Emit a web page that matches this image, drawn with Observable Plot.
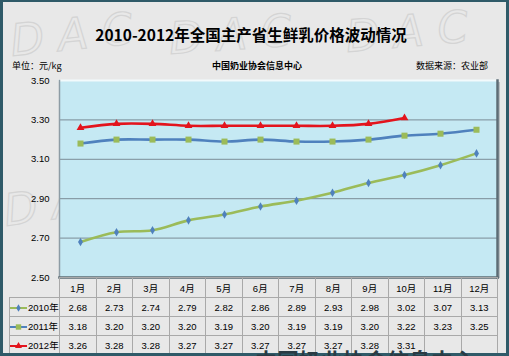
<!DOCTYPE html>
<html><head><meta charset="utf-8">
<script src="https://cdn.jsdelivr.net/npm/d3@7"></script>
<script src="https://cdn.jsdelivr.net/npm/@observablehq/plot@0.6"></script>
<style>
body{margin:0;background:#fff;}
#wrap{position:relative;width:509px;height:356px;overflow:hidden;background:#e8e8e8;font-family:"Noto Sans CJK SC",sans-serif;color:#000;}
#frame{position:absolute;left:0;top:0;width:509px;height:356px;box-sizing:border-box;border:3px solid #2f5a68;border-top-width:2px;pointer-events:none;z-index:20;}
#wm{position:absolute;left:0;top:0;z-index:0;}
#chart{position:absolute;left:0;top:0;z-index:2;}
.title{position:absolute;left:0;width:502px;top:25px;text-align:center;font-size:15.5px;font-weight:700;line-height:18px;z-index:3;}
.sub{position:absolute;top:61px;font-size:9px;line-height:10px;z-index:3;}
#tbl{position:absolute;left:9px;top:277px;z-index:4;border-collapse:collapse;table-layout:fixed;font-family:"Liberation Sans Narrow","Liberation Sans","Noto Sans CJK SC",sans-serif;font-size:9.5px;}
#tbl td{border:1px solid #a9a9a9;padding:0;text-align:center;vertical-align:middle;overflow:hidden;white-space:nowrap;}
#tbl td.blank{border:none;}
#tbl td.leg{text-align:right;padding-right:2px;}
#tbl td.leg svg{vertical-align:middle;}
.big{position:absolute;left:255px;top:348px;font-size:22px;font-weight:700;color:#2a3b44;z-index:25;white-space:nowrap;line-height:22px;}
#shade{position:absolute;left:497px;top:82px;width:3px;height:196px;background:#b9bfc2;z-index:1;}
</style></head>
<body>
<div id="wrap">
  <svg id="wm" width="509" height="356"></svg>
  <div class="title">2010-2012年全国主产省生鲜乳价格波动情况</div>
  <div class="sub" style="left:12px;">单位：元/kg</div>
  <div class="sub" style="left:0;width:514px;text-align:center;font-weight:700;">中国奶业协会信息中心</div>
  <div class="sub" style="right:21px;">数据来源：农业部</div>
  <div id="shade"></div>
  <div id="chart"></div>
  <table id="tbl"></table>
  <div class="big">中国奶业协会信息中心</div>
  <div id="frame"></div>
</div>
<script>
// ---- data ----
const months = ["1月","2月","3月","4月","5月","6月","7月","8月","9月","10月","11月","12月"];
const seriesNames = ["2010年","2011年","2012年"];
const v2010 = [2.68,2.73,2.74,2.79,2.82,2.86,2.89,2.93,2.98,3.02,3.07,3.13];
const v2011 = [3.18,3.20,3.20,3.20,3.19,3.20,3.19,3.19,3.20,3.22,3.23,3.25];
const v2012 = [3.26,3.28,3.28,3.27,3.27,3.27,3.27,3.27,3.28,3.31];
const yTicks = [2.50,2.70,2.90,3.10,3.30,3.50];

// ---- styles ----
const seriesValues = [v2010, v2011, v2012];
const styles = [
  {line:"#9bbb59", marker:"#4f81bd", symbol:"diamond", r:2.6},
  {line:"#4f81bd", marker:"#9bbb59", symbol:"square", r:3.4},
  {line:"#e3141d", marker:"#e3141d", symbol:"triangle", r:2.9}
];
const fmt = d3.format(".2f");

const rows = seriesNames.flatMap((name, k) =>
  seriesValues[k].map((v, i) => ({series: name, month: months[i], value: v})));

const M = {top:80, bottom:79, left:59, right:12};
const W = 509, H = 356;

const marks = [
  Plot.frame({fill:"#c5e9f3"}),
  Plot.ruleY(yTicks.slice(1, -1), {stroke:"#7b8c96", strokeWidth:1}),
  Plot.frame({anchor:"top", stroke:"#f2fafc", strokeWidth:2}),
  Plot.frame({anchor:"left", stroke:"#8d9ca5", strokeWidth:1.5}),
  Plot.frame({anchor:"right", stroke:"#5d6c75", strokeWidth:2.5}),
  Plot.frame({anchor:"bottom", stroke:"#5d6c75", strokeWidth:2.5})
];
seriesNames.forEach((name, k) => {
  marks.push(Plot.line(rows.filter(d => d.series === name), {
    x:"month", y:"value", stroke:styles[k].line, strokeWidth:2.6, curve:"catmull-rom"}));
});
seriesNames.forEach((name, k) => {
  marks.push(Plot.dot(rows.filter(d => d.series === name), {
    x:"month", y:"value", symbol:styles[k].symbol, fill:styles[k].marker, r:styles[k].r, stroke:"none"}));
});

const chart = Plot.plot({
  width:W, height:H,
  marginTop:M.top, marginBottom:M.bottom, marginLeft:M.left, marginRight:M.right,
  style:{background:"transparent", fontFamily:"'Liberation Sans Narrow','Liberation Sans',sans-serif", fontSize:"9.5px", color:"#000"},
  x:{type:"point", domain:months, padding:0.5, axis:null},
  y:{domain:[yTicks[0], yTicks[yTicks.length-1]], ticks:yTicks, tickFormat:fmt, tickSize:0, tickPadding:10, label:null},
  marks
});
document.getElementById("chart").appendChild(chart);

// ---- data table under the chart ----
const colW = (W - M.left - M.right) / months.length;
const tbl = document.getElementById("tbl");
const cg = document.createElement("colgroup");
const c0 = document.createElement("col"); c0.style.width = (M.left - 9) + "px"; cg.appendChild(c0);
months.forEach(() => { const c = document.createElement("col"); c.style.width = colW + "px"; cg.appendChild(c); });
tbl.appendChild(cg);
tbl.style.width = (W - M.right - 9) + "px";
const hr = document.createElement("tr"); hr.style.height = "20px";
const b = document.createElement("td"); b.className = "blank"; hr.appendChild(b);
months.forEach(m => { const td = document.createElement("td"); td.textContent = m; hr.appendChild(td); });
tbl.appendChild(hr);
seriesNames.forEach((name, k) => {
  const tr = document.createElement("tr"); tr.style.height = "19px";
  const lg = document.createElement("td"); lg.className = "leg";
  const s = styles[k];
  const sym = d3.symbol(s.symbol === "diamond" ? d3.symbolDiamond : s.symbol === "square" ? d3.symbolSquare : d3.symbolTriangle, Math.PI * s.r * s.r * 0.8)();
  lg.innerHTML = `<svg width="18" height="10"><line x1="0" x2="17" y1="5" y2="5" stroke="${s.line}" stroke-width="2"/><path d="${sym}" transform="translate(8.5,5)" fill="${s.marker}"/></svg>${name}`;
  tr.appendChild(lg);
  months.forEach((m, i) => {
    const td = document.createElement("td");
    const v = seriesValues[k][i];
    td.textContent = v === undefined ? "" : fmt(v);
    tr.appendChild(td);
  });
  tbl.appendChild(tr);
});

// ---- faint "DAC" watermarks ----
const wm = d3.select("#wm");
[[12,56,-6],[170,54,-4],[347,52,-5],[6,226,-8]].forEach(([x,y,rot]) => {
  wm.append("text").attr("x", x).attr("y", y)
    .attr("transform", `rotate(${rot},${x},${y})`)
    .attr("font-family", "DejaVu Sans").attr("font-size", 44).attr("font-style", "italic")
    .attr("letter-spacing", 14)
    .attr("fill", "none").attr("stroke", "#d4d4d4").attr("stroke-width", 1.2)
    .text("DAC");
});
</script>
</body></html>
